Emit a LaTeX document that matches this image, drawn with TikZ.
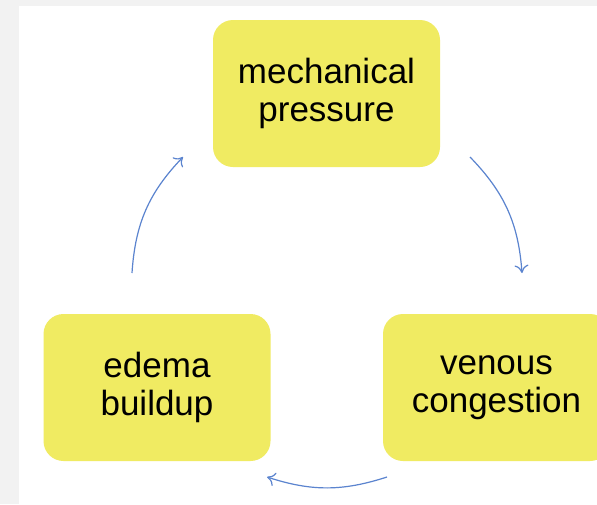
\documentclass[tikz,border=0pt]{standalone}
\usepackage{fontspec}
\setmainfont{Liberation Sans}
\usetikzlibrary{arrows.meta}
\definecolor{boxyellow}{HTML}{F0EB62}
\definecolor{arrowblue}{HTML}{5B84CF}
\definecolor{pagegray}{HTML}{F2F2F2}
\begin{document}
\begin{tikzpicture}[x=1pt,y=-1pt,
  stagebox/.style={fill=boxyellow,rounded corners=20pt,minimum width=227pt,minimum height=147pt,align=center,font=\fontsize{35}{38}\selectfont},
  cyclearrow/.style={draw=arrowblue,line width=1.2pt,-{To[length=8pt,width=14pt]}}]
\useasboundingbox (0,0) rectangle (597,504);
\fill[pagegray] (0,0) rectangle (597,504);
\fill[white] (19,6) rectangle (597,504);
\begin{scope}
\clip (0,0) rectangle (597,504);
\node[stagebox] (pressure) at (326.5,93.5) {mechanical\\pressure};
\node[stagebox] (edema) at (157,387.5) {edema\\buildup};
\node[stagebox] (venous) at (496.5,387.5) {venous\\congestion};
\end{scope}
\coordinate (pr) at (470,157);
\coordinate (vt) at (522,273);
\coordinate (vb) at (387,477);
\coordinate (eb) at (267,477);
\coordinate (et) at (132,273);
\coordinate (pl) at (183,157);
\draw[cyclearrow] (pr) to[bend left=20] (vt);
\draw[cyclearrow] (vb) to[bend left=18] (eb);
\draw[cyclearrow] (et) to[bend left=20] (pl);
\end{tikzpicture}
\end{document}
